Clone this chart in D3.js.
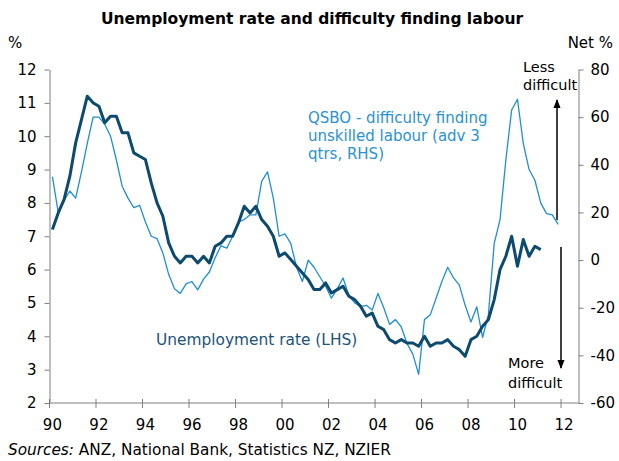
<!DOCTYPE html>
<html>
<head>
<meta charset="utf-8">
<script src="https://cdn.jsdelivr.net/npm/d3@7/dist/d3.min.js"></script>
<style>
  body { margin: 0; background: #fff; }
  svg { display: block; font-family: "DejaVu Sans", Verdana, sans-serif; }
</style>
</head>
<body>
<div id="chart"></div>
<script>
// quarterly categories, 1990Q1 .. 2012Q3
const quarters = [];
for (let yr = 1990; yr <= 2012; yr++) {
    for (let q = 1; q <= 4; q++) quarters.push(yr + "Q" + q);
}
quarters.length = 91;

// Unemployment rate, %, 1990Q1 - 2011Q1 (LHS)
const unemployment = [
    7.2, 7.7, 8.1, 8.8, 9.8, 10.5, 11.2, 11.0, 10.9, 10.4,
    10.6, 10.6, 10.1, 10.1, 9.5, 9.4, 9.3, 8.6, 8.0, 7.6,
    6.8, 6.4, 6.2, 6.4, 6.4, 6.2, 6.4, 6.2, 6.7, 6.8,
    7.0, 7.0, 7.4, 7.9, 7.7, 7.9, 7.5, 7.3, 7.0, 6.4,
    6.5, 6.3, 6.1, 5.9, 5.7, 5.4, 5.4, 5.6, 5.3, 5.4,
    5.5, 5.2, 5.1, 4.9, 4.6, 4.7, 4.3, 4.2, 3.9, 3.8,
    3.9, 3.8, 3.8, 3.7, 4.0, 3.7, 3.8, 3.8, 3.9, 3.7,
    3.6, 3.4, 3.9, 4.0, 4.3, 4.5, 5.1, 6.0, 6.4, 7.0,
    6.1, 6.9, 6.4, 6.7, 6.6
];

// QSBO difficulty finding unskilled labour, net %, advanced 3 qtrs, 1990Q1 - 2011Q4 (RHS)
const qsbo = [
    35, 20, 25, 29, 26, 37, 49, 60, 60, 57,
    52, 42, 31, 26, 22, 23, 16, 10, 9, 3,
    -6, -12, -14, -10, -9, -12.5, -8, -5, 1, 6,
    5, 10, 16, 17, 19, 19, 33, 37, 26, 10,
    11, 7, -3, -9, 0, -3, -7, -11, -16, -12,
    -7.5, -15, -18, -19.5, -19, -21, -14, -20, -27, -25,
    -28, -35, -39.5, -48, -25, -23, -16, -9, -3, -7.5,
    -10.5, -19, -26, -19.6, -32.5, -23, 7, 17, 42, 63,
    67.5, 49, 38, 33.5, 24, 19.5, 19, 15
];

const yearTicks = ["1990Q1", "1992Q1", "1994Q1", "1996Q1", "1998Q1", "2000Q1",
    "2002Q1", "2004Q1", "2006Q1", "2008Q1", "2010Q1", "2012Q1"];
const yearLabels = ["90", "92", "94", "96", "98", "00", "02", "04", "06", "08", "10", "12"];
const leftTicks = [2, 3, 4, 5, 6, 7, 8, 9, 10, 11, 12];
const rightTicks = [-60, -40, -20, 0, 20, 40, 60, 80];

const width = 619, height = 461;
const plotLeft = 49.5, plotRight = 578.5, plotTop = 69.5, plotBottom = 403;
const darkBlue = "#0c4a70";
const lightBlue = "#1f8fd2";
const axisGrey = "#7f7f7f";

const svg = d3.select("#chart").append("svg")
    .attr("width", width)
    .attr("height", height);

const x = d3.scaleBand().domain(quarters).range([plotLeft, plotRight]).padding(0);
const yL = d3.scaleLinear().domain([2, 12]).range([plotBottom, plotTop]);
const yR = d3.scaleLinear().domain([-60, 80]).range([plotBottom, plotTop]);
const cx = d => x(d) + x.bandwidth() / 2;

// title
svg.append("text")
    .attr("x", 312).attr("y", 24)
    .attr("text-anchor", "middle")
    .attr("font-size", 15.5).attr("font-weight", "bold")
    .text("Unemployment rate and difficulty finding labour");

svg.append("text").attr("x", 8).attr("y", 48).attr("font-size", 15).text("%");
svg.append("text").attr("x", 613).attr("y", 48).attr("text-anchor", "end")
    .attr("font-size", 15).text("Net %");

// axes
function styleAxis(g) {
    g.selectAll("path, line").attr("stroke", axisGrey).attr("stroke-width", 1);
    g.selectAll("text").attr("font-size", 15).attr("fill", "#000")
        .attr("font-family", "DejaVu Sans, Verdana, sans-serif");
}

svg.append("g")
    .attr("transform", `translate(${plotLeft},0)`)
    .call(d3.axisLeft(yL).tickValues(leftTicks).tickSize(5).tickSizeOuter(0).tickPadding(8))
    .call(styleAxis);

svg.append("g")
    .attr("transform", `translate(${plotRight},0)`)
    .call(d3.axisRight(yR).tickValues(rightTicks).tickSize(5).tickSizeOuter(0).tickPadding(7)
        .tickFormat(d => d < 0 ? "-" + Math.abs(d) : d))
    .call(styleAxis);

// category axis along the bottom
const xAxis = svg.append("g");
xAxis.append("line")
    .attr("x1", plotLeft).attr("x2", plotRight)
    .attr("y1", plotBottom).attr("y2", plotBottom)
    .attr("stroke", axisGrey);
xAxis.selectAll(".xtick")
    .data(yearTicks)
    .enter().append("line")
    .attr("class", "xtick")
    .attr("x1", d => x(d)).attr("x2", d => x(d))
    .attr("y1", plotBottom - 4).attr("y2", plotBottom + 5)
    .attr("stroke", axisGrey);
xAxis.selectAll(".xlabel")
    .data(yearTicks)
    .enter().append("text")
    .attr("class", "xlabel")
    .attr("x", d => cx(d))
    .attr("y", 430)
    .attr("text-anchor", "middle")
    .attr("font-size", 15)
    .text((d, i) => yearLabels[i]);

// series
const lineL = d3.line().x((d, i) => cx(quarters[i])).y(d => yL(d));
const lineR = d3.line().x((d, i) => cx(quarters[i])).y(d => yR(d));

svg.append("path")
    .datum(qsbo)
    .attr("fill", "none")
    .attr("stroke", lightBlue)
    .attr("stroke-width", 1.3)
    .attr("stroke-linejoin", "round")
    .attr("d", lineR);

svg.append("path")
    .datum(unemployment)
    .attr("fill", "none")
    .attr("stroke", darkBlue)
    .attr("stroke-width", 3)
    .attr("stroke-linejoin", "round")
    .attr("d", lineL);

// series labels
svg.append("text")
    .attr("x", 156).attr("y", 345)
    .attr("font-size", 15.4)
    .attr("fill", "#1b5379")
    .text("Unemployment rate (LHS)");

const qLabel = svg.append("text")
    .attr("font-size", 15)
    .attr("fill", "#2a92d2");
["QSBO - difficulty finding", "unskilled labour (adv 3", "qtrs, RHS)"].forEach((t, i) => {
    qLabel.append("tspan").attr("x", 308).attr("y", 123 + i * 18.2).text(t);
});

// direction notes and arrows
const notes = svg.append("g").attr("font-size", 14.5).attr("fill", "#000");
notes.append("text").attr("x", 523).attr("y", 72).text("Less");
notes.append("text").attr("x", 523).attr("y", 89.5).text("difficult");
notes.append("text").attr("x", 508).attr("y", 368).text("More");
notes.append("text").attr("x", 508).attr("y", 388).text("difficult");

svg.append("defs").append("marker")
    .attr("id", "head")
    .attr("viewBox", "0 0 10 10")
    .attr("refX", 9).attr("refY", 5)
    .attr("markerWidth", 6).attr("markerHeight", 6)
    .attr("orient", "auto")
    .append("path").attr("d", "M0,1L10,5L0,9z").attr("fill", "#000");

svg.append("line")
    .attr("x1", 557).attr("y1", 220).attr("x2", 557).attr("y2", 100)
    .attr("stroke", "#000").attr("stroke-width", 1.5)
    .attr("marker-end", "url(#head)");
svg.append("line")
    .attr("x1", 561).attr("y1", 247).attr("x2", 561).attr("y2", 368)
    .attr("stroke", "#000").attr("stroke-width", 1.5)
    .attr("marker-end", "url(#head)");

// source
const src = svg.append("text").attr("x", 8).attr("y", 455).attr("font-size", 15.3);
src.append("tspan").attr("font-style", "italic").text("Sources:");
src.append("tspan").text(" ANZ, National Bank, Statistics NZ, NZIER");
</script>
</body>
</html>
